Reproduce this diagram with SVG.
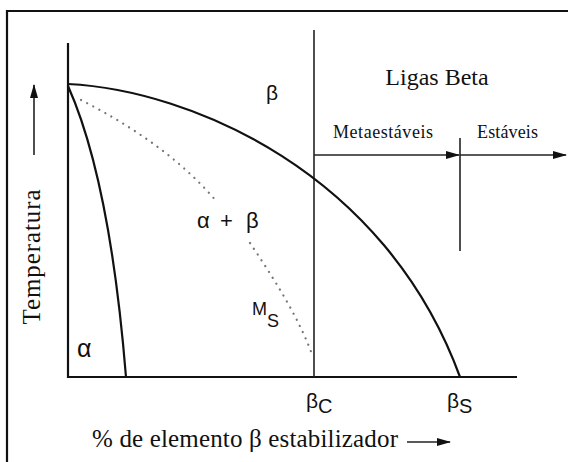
<svg xmlns="http://www.w3.org/2000/svg" width="568" height="462" viewBox="0 0 568 462">
<style>
.ln{fill:none;stroke:#111;stroke-width:2.2}
.thin{fill:none;stroke:#222;stroke-width:1.6}
.dot{fill:none;stroke:#777;stroke-width:2.2;stroke-dasharray:0.1 6.8;stroke-linecap:round}
.serif{font-family:"Liberation Serif","Times New Roman",serif;fill:#111}
.sans{font-family:"Liberation Sans",Arial,sans-serif;fill:#111}
</style>
<defs>
<marker id="ah" markerWidth="14" markerHeight="10" refX="13" refY="5" orient="auto" markerUnits="userSpaceOnUse">
<path d="M0,1 L14,5 L0,9 Z" fill="#111"/>
</marker>
</defs>
<rect width="568" height="462" fill="#fff"/>
<g id="frame">
<path d="M7,462 V11 H568" class="ln"/>
</g>
<g id="connectors">
<path d="M68,43 V377 H517" class="ln" stroke-width="2"/>
<path d="M314,30 V377" class="thin"/>
<path d="M68,84 C190,90 385,172 460,377" class="ln"/>
<path d="M68,86 Q110,180 126,377" class="ln"/>
<path d="M81,100 C130,125 180,158 217,202" class="dot"/>
<path d="M250,243 C275,280 300,320 313,357" class="dot"/>
<path d="M314,155 H459" class="thin" marker-end="url(#ah)"/>
<path d="M460,155 H566" class="thin" marker-end="url(#ah)"/>
<path d="M460,138 V251" class="thin"/>
<path d="M34,155 V85" class="thin" marker-end="url(#ah)"/>
<path d="M407,442 H450" class="thin" marker-end="url(#ah)"/>
</g>
<g id="labels">
<text x="437" y="85" class="serif" font-size="24" text-anchor="middle">Ligas Beta</text>
<text x="333" y="138" class="serif" font-size="18" textLength="100">Metaestáveis</text>
<text x="477" y="138" class="serif" font-size="18" textLength="61">Estáveis</text>
<text x="92" y="447" class="serif" font-size="25" textLength="306">% de elemento β estabilizador</text>
<text transform="translate(40,257) rotate(-90)" class="serif" font-size="25" text-anchor="middle" textLength="135">Temperatura</text>
<text x="266" y="100" class="sans" font-size="21">β</text>
<text class="sans" font-size="22" y="228"><tspan x="197">α</tspan><tspan x="220">+</tspan><tspan x="246">β</tspan></text>
<text x="252" y="315" class="sans" font-size="18">M<tspan font-size="18" dy="12">S</tspan></text>
<text x="77" y="357" class="sans" font-size="25">α</text>
<text x="306" y="408" class="sans" font-size="21">β<tspan font-size="20" dy="5">C</tspan></text>
<text x="447" y="408" class="sans" font-size="21">β<tspan font-size="20" dy="5">S</tspan></text>
</g>
</svg>
